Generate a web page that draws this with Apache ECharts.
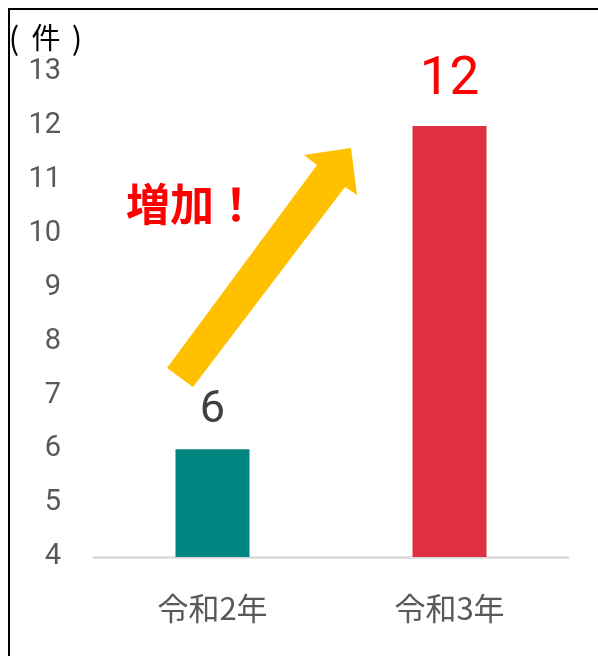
<!DOCTYPE html>
<html>
<head>
<meta charset="utf-8">
<title>件数の推移</title>
<script src="https://cdn.jsdelivr.net/npm/echarts@6/dist/echarts.min.js"></script>
<style>
  html, body {
    margin: 0;
    padding: 0;
    background: #ffffff;
  }
  #chart {
    width: 598px;
    height: 656px;
  }
</style>
</head>
<body>
<div id="chart"></div>
<script>
// 年度ごとの件数
const categories = ['令和2年', '令和3年']
const counts = [6, 12]
const barColors = ['#00847f', '#e03140']
const labelColors = ['#404040', '#ff0000']
const labelSizes = [45, 53]

const numFont = 'Roboto, sans-serif'
const cjkFont = "'Noto Sans CJK JP', sans-serif"

const chart = echarts.init(document.getElementById('chart'))

// 単位「（件）」は字間が広いので一文字ずつ置く
const unitChars = [
  { text: '(', x: 14, size: 31 },
  { text: '件', x: 46, size: 29 },
  { text: ')', x: 77, size: 31 }
]

const option = {
  animation: false,
  grid: {
    left: 94,
    right: 30,
    top: 72,
    bottom: 99
  },
  xAxis: {
    type: 'category',
    data: categories,
    axisLine: {
      lineStyle: { color: '#d9d9d9', width: 2.5 }
    },
    axisTick: { show: false },
    axisLabel: {
      margin: 36,
      fontSize: 31,
      color: '#595959',
      fontFamily: cjkFont
    }
  },
  yAxis: {
    type: 'value',
    min: 4,
    max: 13,
    interval: 1,
    splitLine: { show: false },
    axisLine: { show: false },
    axisTick: { show: false },
    axisLabel: {
      margin: 33,
      fontSize: 29,
      color: '#595959',
      fontFamily: numFont
    }
  },
  series: [{
    type: 'bar',
    barWidth: 74,
    data: counts.map((v, i) => ({
      value: v,
      itemStyle: { color: barColors[i] },
      label: {
        show: true,
        position: 'top',
        distance: i === 0 ? 16 : 19,
        fontSize: labelSizes[i],
        color: labelColors[i],
        fontFamily: numFont
      }
    }))
  }],
  graphic: [
    // 外枠
    {
      type: 'rect',
      shape: { x: 9, y: 9, width: 620, height: 680 },
      style: { fill: 'none', stroke: '#000000', lineWidth: 2 }
    },
    // 単位
    ...unitChars.map(c => ({
      type: 'text',
      x: c.x,
      y: 38,
      style: {
        text: c.text,
        fontSize: c.size,
        fill: '#000000',
        fontFamily: cjkFont,
        align: 'center',
        verticalAlign: 'middle'
      }
    })),
    // 矢印
    {
      type: 'polygon',
      shape: {
        points: [[167, 368], [193, 387], [345, 187], [357, 195], [351, 148], [304, 155], [317, 165]]
      },
      style: { fill: '#ffc000' }
    },
    {
      type: 'text',
      left: 126,
      top: 182,
      style: {
        text: '増加！',
        fontSize: 44,
        fontWeight: 'bold',
        fill: '#ff0000',
        fontFamily: cjkFont
      }
    }
  ]
}

chart.setOption(option)
</script>
</body>
</html>
